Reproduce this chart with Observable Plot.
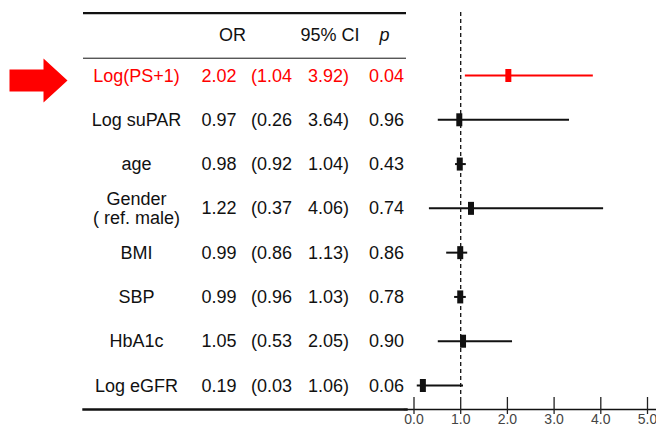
<!DOCTYPE html>
<html>
<head>
<meta charset="utf-8">
<script src="https://cdn.jsdelivr.net/npm/d3@7"></script>
<script src="https://cdn.jsdelivr.net/npm/@observablehq/plot@0.6"></script>
<style>
  html, body { margin: 0; padding: 0; background: #fff; }
  svg { display: block; }
</style>
</head>
<body>
<div id="chart"></div>
<script>
// ---- data ----
const labels = ["Log(PS+1)", "Log suPAR", "age", "Gender\n( ref. male)", "BMI", "SBP", "HbA1c", "Log eGFR"];
const orValues = [2.02, 0.97, 0.98, 1.22, 0.99, 0.99, 1.05, 0.19];
const ciLow = [1.04, 0.26, 0.92, 0.37, 0.86, 0.96, 0.53, 0.03];
const ciHigh = [3.92, 3.64, 1.04, 4.06, 1.13, 1.03, 2.05, 1.06];
const pValues = [0.04, 0.96, 0.43, 0.74, 0.86, 0.78, 0.90, 0.06];
// whisker ends as drawn in the picture
const lineLow = [1.10, 0.52, 0.89, 0.33, 0.70, 0.87, 0.52, 0.07];
const lineHigh = [3.84, 3.33, 1.12, 4.06, 1.15, 1.12, 2.11, 1.06];
const highlighted = ["Log(PS+1)"];
const headers = ["OR", "95% CI", "p"];
const xTicks = [0, 1, 2, 3, 4, 5];

const red = "#ff0000";
const ink = "#111111";
const font = "'Liberation Sans', Arial, Helvetica, sans-serif";

const rows = labels.map((label, i) => ({
  row: i,
  label,
  or: orValues[i],
  lo: ciLow[i],
  hi: ciHigh[i],
  p: pValues[i],
  lineLo: lineLow[i],
  lineHi: lineHigh[i],
  color: highlighted.includes(label) ? red : ink
}));
const headerRows = headers.map((h) => ({row: -1, text: h}));

const f2 = (v) => v.toFixed(2);

const markSymbol = {draw(ctx) { ctx.rect(-3, -6.5, 6, 13); }};
const arrowSymbol = {draw(ctx) {
  ctx.moveTo(-29, -11); ctx.lineTo(5, -11); ctx.lineTo(5, -22); ctx.lineTo(29, 0);
  ctx.lineTo(5, 22); ctx.lineTo(5, 11); ctx.lineTo(-29, 11); ctx.closePath();
}};

const textCol = (text, dx, extra = {}) => Plot.text(rows, {
  y: "row", frameAnchor: "left", dx, text, fill: "color",
  fontSize: 18, textAnchor: "middle", lineHeight: 1.05, ...extra
});

const chart = Plot.plot({
  width: 656,
  height: 437,
  marginLeft: 0,
  marginRight: 9,
  marginTop: 12,
  marginBottom: 28,
  style: {fontFamily: font, background: "#fff"},
  x: {domain: [0, 5], range: [413.5, 647]},
  y: {domain: [0, 7], range: [75, 385], axis: null},
  color: {type: "identity"},
  marks: [
    // table rules
    Plot.ruleY([-1], {dy: -18, insetLeft: 83, insetRight: 241, stroke: ink, strokeWidth: 2.2}),
    Plot.ruleY([-1], {dy: 27, insetLeft: 83, insetRight: 241, stroke: ink, strokeWidth: 1}),
    Plot.frame({anchor: "bottom", insetLeft: 83, insetRight: 241, stroke: ink, strokeWidth: 2.4}),
    // axis line
    Plot.frame({anchor: "bottom", insetLeft: 404, insetRight: -9, stroke: ink, strokeWidth: 1.5}),
    Plot.tickX(xTicks, {x: (d) => d, insetTop: 385, stroke: "#222", strokeWidth: 1.3}),
    Plot.axisX({ticks: xTicks, tickSize: 5, text: null, stroke: "#222", strokeWidth: 1.3}),
    Plot.text(xTicks, {x: (d) => d, text: (d) => d.toFixed(1), frameAnchor: "bottom", dy: 14,
      fontSize: 14, fill: "#444"}),
    // reference line
    Plot.ruleX([1], {stroke: ink, strokeWidth: 1.3, strokeDasharray: "4,3", insetBottom: 12}),
    // headers
    Plot.text(headerRows.filter((d) => d.text === "OR"), {y: "row", text: "text", frameAnchor: "left", dx: 218.5, dy: 4, fontSize: 18, fill: ink}),
    Plot.text(headerRows.filter((d) => d.text === "95% CI"), {y: "row", text: "text", frameAnchor: "left", dx: 300, dy: 4, fontSize: 18, fill: ink}),
    Plot.text(headerRows.filter((d) => d.text === "p"), {y: "row", text: "text", frameAnchor: "left", dx: 379, dy: 4, fontSize: 18, fill: ink, fontStyle: "italic"}),
    // table body
    textCol("label", 136),
    textCol((d) => f2(d.or), 218.5),
    textCol((d) => "(" + f2(d.lo), 271),
    textCol((d) => f2(d.hi) + ")", 328),
    textCol((d) => f2(d.p), 386),
    // forest
    Plot.ruleY(rows, {y: "row", x1: "lineLo", x2: "lineHi", stroke: "color", strokeWidth: 2}),
    Plot.dot(rows, {x: "or", y: "row", symbol: markSymbol, fill: "color"}),
    // arrow pointing at the highlighted row
    Plot.dot(rows.filter((d) => highlighted.includes(d.label)), {y: "row", frameAnchor: "left", dx: 38, dy: 5, symbol: arrowSymbol, fill: red})
  ]
});
document.getElementById("chart").appendChild(chart);
</script>
</body>
</html>
